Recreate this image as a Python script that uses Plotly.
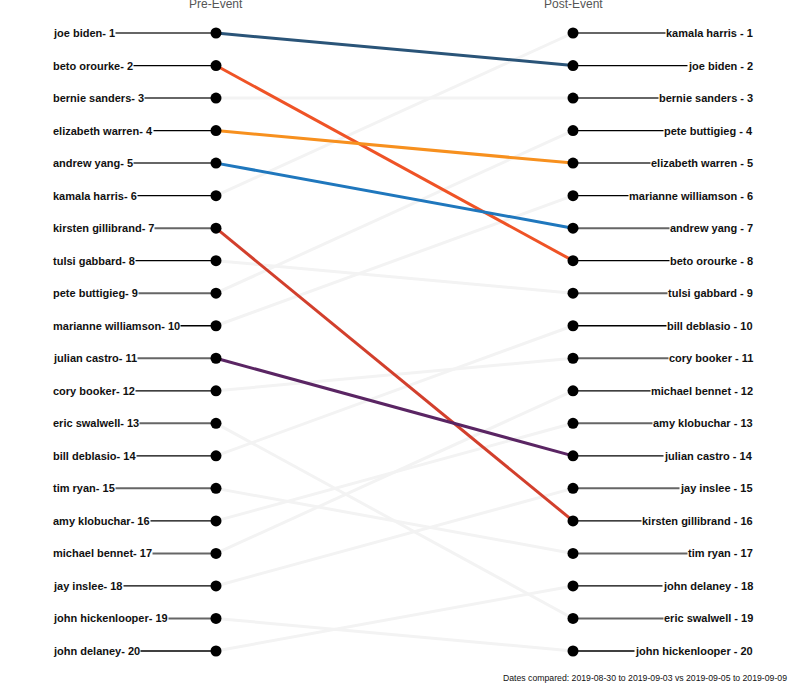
import plotly.graph_objects as go

candidates = ["joe biden", "beto orourke", "bernie sanders", "elizabeth warren", "andrew yang",
              "kamala harris", "kirsten gillibrand", "tulsi gabbard", "pete buttigieg",
              "marianne williamson", "julian castro", "cory booker", "eric swalwell",
              "bill deblasio", "tim ryan", "amy klobuchar", "michael bennet", "jay inslee",
              "john hickenlooper", "john delaney"]
pre_rank = list(range(1, 21))
post_rank = [2, 8, 3, 5, 7, 1, 16, 9, 4, 6, 14, 11, 19, 10, 17, 13, 12, 15, 20, 18]
highlight_colors = {
    "joe biden": "#2a5478",
    "beto orourke": "#ef5326",
    "elizabeth warren": "#f7901e",
    "andrew yang": "#1f77bd",
    "kirsten gillibrand": "#d23f2c",
    "julian castro": "#5a2563",
}
titles = ["Pre-Event", "Post-Event"]
footnote = "Dates compared: 2019-08-30 to 2019-09-03 vs 2019-09-05 to 2019-09-09"

W, H = 791, 689
xpre_px, xpost_px = 216, 573
y1_px, y20_px = 33, 651
ppu_x = xpost_px - xpre_px
x0 = -xpre_px / ppu_x
x1 = x0 + W / ppu_x
step = (y20_px - y1_px) / 19
ytop = 1 - y1_px / step
ybot = 20 + (H - y20_px) / step
xl = x0 + 52 / ppu_x
xr = x0 + 754 / ppu_x
xl_line = x0 + 70 / ppu_x
xr_line = x0 + 735 / ppu_x

fig = go.Figure()

# faint lines first
for name, a, b in zip(candidates, pre_rank, post_rank):
    if name not in highlight_colors:
        fig.add_trace(go.Scatter(x=[0, 1], y=[a, b], mode="lines",
                                 line=dict(color="#f3f3f3", width=3),
                                 hoverinfo="skip", showlegend=False))
for name, a, b in zip(candidates, pre_rank, post_rank):
    if name in highlight_colors:
        fig.add_trace(go.Scatter(x=[0, 1], y=[a, b], mode="lines",
                                 line=dict(color=highlight_colors[name], width=3),
                                 hoverinfo="skip", showlegend=False))

# label leader lines
for r in range(1, 21):
    c = "#666666" if r % 2 == 1 else "#000000"
    w = 2 if r % 2 == 1 else 1.3
    fig.add_trace(go.Scatter(x=[xl_line, 0], y=[r, r], mode="lines", line=dict(color=c, width=w),
                             hoverinfo="skip", showlegend=False))
    fig.add_trace(go.Scatter(x=[1, xr_line], y=[r, r], mode="lines", line=dict(color=c, width=w),
                             hoverinfo="skip", showlegend=False))

fig.add_trace(go.Scatter(x=[0] * 20, y=pre_rank, mode="markers",
                         marker=dict(color="black", size=11), showlegend=False))
fig.add_trace(go.Scatter(x=[1] * 20, y=post_rank, mode="markers",
                         marker=dict(color="black", size=11), showlegend=False))

font = dict(family="Liberation Sans, Arial, sans-serif", size=11, color="#111111")
for name, a in zip(candidates, pre_rank):
    fig.add_annotation(x=xl, y=a, text=f"<b>{name}- {a}</b>", showarrow=False,
                       xanchor="left", yanchor="middle", bgcolor="white", borderpad=0, font=font)
for name, b in zip(candidates, post_rank):
    fig.add_annotation(x=xr, y=b, text=f"<b>{name} - {b}</b>", showarrow=False,
                       xanchor="right", yanchor="middle", bgcolor="white", borderpad=0, font=font)

for xv, t in zip([0, 1], titles):
    fig.add_annotation(x=xv, y=1, xref="x", yref="paper", yshift=-4, text=t, showarrow=False,
                       xanchor="center", yanchor="middle",
                       font=dict(family="Liberation Sans, Arial, sans-serif", size=12, color="#555555"))

fig.add_annotation(x=1, y=0, xref="paper", yref="paper", xanchor="right", yanchor="bottom",
                   xshift=-2, yshift=4, text=footnote, showarrow=False,
                   font=dict(family="Liberation Sans, Arial, sans-serif", size=8.7, color="#111111"))

fig.update_layout(width=W, height=H, margin=dict(l=0, r=0, t=0, b=0),
                  paper_bgcolor="white", plot_bgcolor="white",
                  xaxis=dict(range=[x0, x1], visible=False, fixedrange=True),
                  yaxis=dict(range=[ybot, ytop], visible=False, fixedrange=True))
fig.write_html("out.html", config={"displayModeBar": False},
               post_script="document.body.style.margin='0';document.body.style.overflow='hidden';")
